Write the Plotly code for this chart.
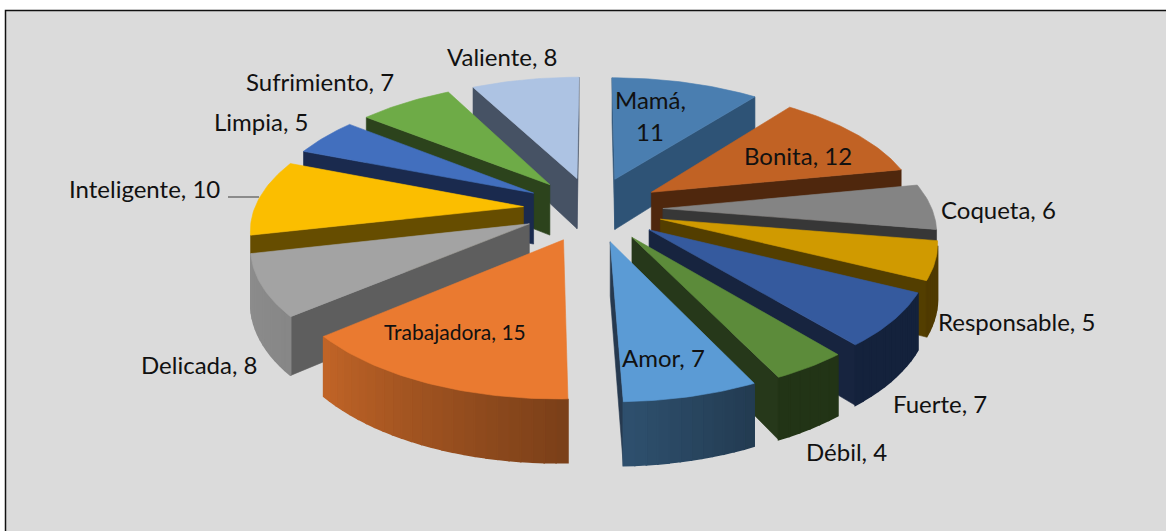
import numpy as np
import plotly.graph_objects as go

CATEGORIES = ["Mamá", "Bonita", "Coqueta", "Responsable", "Fuerte", "Débil", "Amor",
              "Trabajadora", "Delicada", "Inteligente", "Limpia", "Sufrimiento", "Valiente"]
VALUES = [11, 12, 6, 5, 7, 4, 7, 15, 8, 10, 5, 7, 8]

TOP_COLORS = ["#4a7eb0", "#c16224", "#848484", "#d09a00", "#355a9e", "#5c8b3a", "#5b9bd5",
              "#ea7a30", "#a3a3a3", "#fbbe00", "#426fbe", "#6eab47", "#adc3e3"]
WALL_COLORS = ["#2e5376", "#4f270d", "#373737", "#533e00", "#17243f", "#26381a", "#26394f",
               "#7f431a", "#5e5e5e", "#664d00", "#1a2a4e", "#2c431c", "#465264"]

LABEL_POS = {"Mamá": (650, 99), "Bonita": (798, 155), "Coqueta": (998, 209), "Responsable": (1016, 321),
             "Fuerte": (940, 403), "Débil": (846, 451), "Amor": (663, 357), "Trabajadora": (455, 331),
             "Delicada": (199, 364), "Inteligente": (144, 188), "Limpia": (261, 121),
             "Sufrimiento": (320, 81), "Valiente": (502, 56)}
LABEL_SIZE = {"Trabajadora": 21}

# Projection of the tilted pie onto the page (pixel-sized axes)
CX, CY, A, B, H, K, EXPLODE = 593, 209, 269, 125, 52, 0.15, 0.26
SHADE_ANGLE = [0, 154, 178, 230, 270, 360]
SHADE_FACTOR = [0.38, 0.38, 0.52, 0.83, 0.88, 0.88]
OUTER_WALL_LIMIT = 257.2


def project(x, y, depth=0.0):
    s = 1 / (1 + K * y)
    return CX + A * x * s, CY - B * y * s + H * s * depth


def area(poly):
    xs = np.array([p[0] for p in poly])
    ys = -np.array([p[1] for p in poly])
    return 0.5 * np.sum(xs * np.roll(ys, -1) - np.roll(xs, -1) * ys)


def rgb(hexcol):
    return np.array([int(hexcol[i:i + 2], 16) for i in (1, 3, 5)], float)


fig = go.Figure()


def poly(points, color, width=0.6):
    fig.add_trace(go.Scatter(
        x=[p[0] for p in points] + [points[0][0]],
        y=[p[1] for p in points] + [points[0][1]],
        mode="lines", fill="toself", fillcolor=color,
        line=dict(color=color, width=width),
        hoverinfo="skip", showlegend=False))


total = sum(VALUES)
edges = np.concatenate([[0], np.cumsum(VALUES)]) / total * 2 * np.pi
slices = []
for i in range(len(VALUES)):
    a0, a1 = edges[i], edges[i + 1]
    mid = (a0 + a1) / 2
    slices.append((np.cos(mid), i, a0, a1, mid))

for _, i, a0, a1, mid in sorted(slices, key=lambda t: -t[0]):
    ox, oy = EXPLODE * np.sin(mid), EXPLODE * np.cos(mid)
    tip_t, tip_b = project(ox, oy), project(ox, oy, 1)
    pt = lambda a, d=0.0: project(ox + np.sin(a), oy + np.cos(a), d)

    # radial walls
    w0 = [tip_t, pt(a0), pt(a0, 1), tip_b]
    w1 = [tip_t, pt(a1), pt(a1, 1), tip_b]
    if area(w0) > 0:
        poly(w0, WALL_COLORS[i])
    if area(w1) < 0:
        poly(w1, WALL_COLORS[i])

    # outer wall, shaded in narrow bands
    n = max(2, int(np.degrees(a1 - a0) / 2))
    ts = np.linspace(a0, a1, n + 1)
    base = rgb(TOP_COLORS[i])
    for t0, t1 in zip(ts[:-1], ts[1:]):
        q = [pt(t0), pt(t1), pt(t1, 1), pt(t0, 1)]
        deg = np.degrees((t0 + t1) / 2)
        if area(q) > 0 and deg < OUTER_WALL_LIMIT:
            f = np.interp(deg, SHADE_ANGLE, SHADE_FACTOR)
            c = (base * f).astype(int)
            poly(q, f"rgb({c[0]},{c[1]},{c[2]})", width=1.6)

    # top face
    arc = [pt(a) for a in np.linspace(a0, a1, n * 2 + 1)]
    poly([tip_t] + arc, TOP_COLORS[i])

annotations = []
for cat, val in zip(CATEGORIES, VALUES):
    x, y = LABEL_POS[cat]
    lines = [f"{cat},", f"{val}"] if cat == "Mamá" else [f"{cat}, {val}"]
    for j, text in enumerate(lines):
        annotations.append(dict(x=x, y=y + 32 * j, xref="x", yref="y", text=text, showarrow=False,
                                xanchor="center", yanchor="middle",
                                font=dict(family="Lato", size=LABEL_SIZE.get(cat, 24), color="#111111")))

fig.update_layout(
    width=1166, height=531, margin=dict(l=0, r=0, t=0, b=0),
    paper_bgcolor="white", plot_bgcolor="white", showlegend=False,
    xaxis=dict(range=[0, 1166], visible=False, fixedrange=True),
    yaxis=dict(range=[531, 0], visible=False, fixedrange=True),
    annotations=annotations,
    shapes=[
        dict(type="rect", xref="x", yref="y", x0=5.5, y0=10.5, x1=1172, y1=540,
             fillcolor="#dbdbdb", line=dict(color="#111111", width=1.5), layer="below"),
        dict(type="line", xref="x", yref="y", x0=228, y0=197, x1=259, y1=197,
             line=dict(color="#555555", width=1.2), layer="below"),
    ],
)

fig.write_html("out.html", config={"displayModeBar": False},
               post_script="document.body.style.margin='0';")
